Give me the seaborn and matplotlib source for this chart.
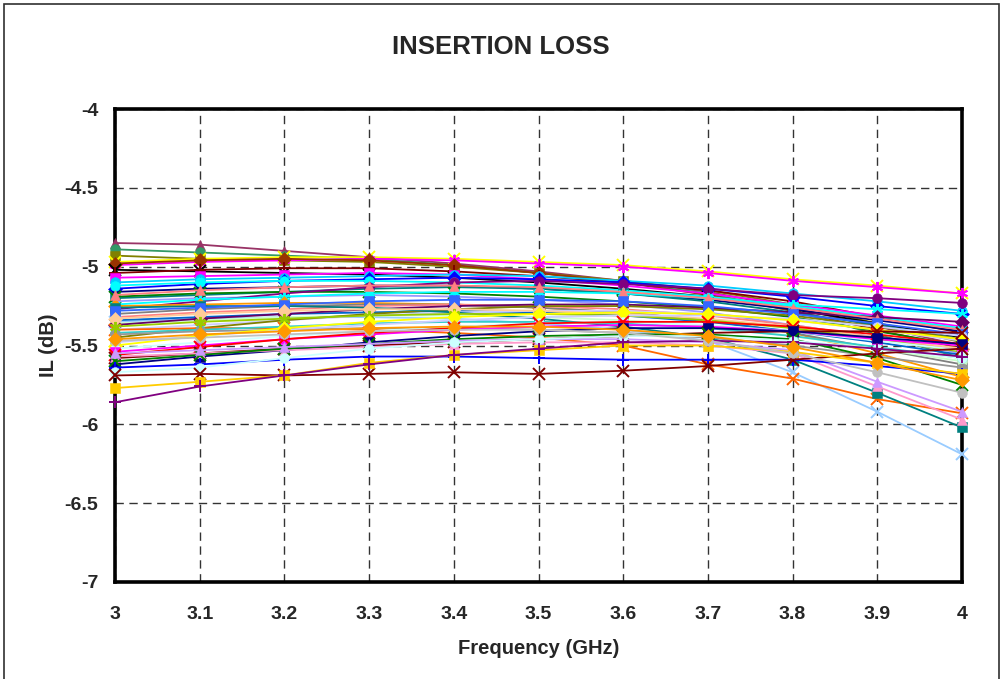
import matplotlib

matplotlib.use("Agg")

import matplotlib.pyplot as plt
import pandas as pd
import seaborn as sns
from matplotlib.patches import Rectangle
from matplotlib.ticker import FormatStrFormatter, MultipleLocator

sns.set_theme(style="white")
plt.rcParams["font.family"] = ["Liberation Sans", "DejaVu Sans"]
plt.rcParams["font.weight"] = "bold"

freq_ghz = [3.0, 3.1, 3.2, 3.3, 3.4, 3.5, 3.6, 3.7, 3.8, 3.9, 4.0]

# insertion loss per device (dB)
upper_group = [
    [-4.85, -4.86, -4.90, -4.94, -4.98, -5.03, -5.09, -5.16, -5.26, -5.38, -5.50],
    [-4.89, -4.91, -4.93, -4.95, -4.99, -5.04, -5.10, -5.17, -5.28, -5.43, -5.58],
    [-4.93, -4.95, -4.96, -4.97, -5.00, -5.04, -5.09, -5.15, -5.24, -5.36, -5.48],
    [-4.97, -4.95, -4.94, -4.94, -4.95, -4.97, -4.99, -5.03, -5.08, -5.12, -5.17],
    [-4.99, -4.97, -4.96, -4.95, -4.96, -4.98, -5.00, -5.04, -5.09, -5.13, -5.17],
    [-4.98, -4.96, -4.95, -4.96, -4.99, -5.04, -5.10, -5.18, -5.28, -5.40, -5.52],
    [-5.02, -5.03, -5.04, -5.05, -5.07, -5.10, -5.14, -5.19, -5.27, -5.36, -5.45],
    [-5.04, -5.02, -5.01, -5.01, -5.03, -5.06, -5.10, -5.15, -5.22, -5.32, -5.42],
    [-5.07, -5.06, -5.05, -5.04, -5.05, -5.08, -5.12, -5.17, -5.24, -5.31, -5.38],
    [-5.10, -5.08, -5.07, -5.06, -5.05, -5.06, -5.09, -5.12, -5.17, -5.22, -5.28],
    [-5.14, -5.11, -5.09, -5.08, -5.07, -5.08, -5.10, -5.14, -5.19, -5.25, -5.30],
    [-5.16, -5.14, -5.13, -5.12, -5.12, -5.14, -5.17, -5.21, -5.27, -5.34, -5.41],
    [-5.12, -5.10, -5.09, -5.09, -5.10, -5.12, -5.15, -5.19, -5.25, -5.32, -5.39],
]
middle_group = [
    [-5.20, -5.18, -5.16, -5.14, -5.13, -5.14, -5.17, -5.22, -5.29, -5.37, -5.46],
    [-5.19, -5.17, -5.16, -5.16, -5.17, -5.19, -5.22, -5.26, -5.32, -5.41, -5.50],
    [-5.22, -5.20, -5.19, -5.18, -5.19, -5.21, -5.24, -5.29, -5.37, -5.45, -5.55],
    [-5.27, -5.22, -5.17, -5.13, -5.10, -5.09, -5.11, -5.14, -5.18, -5.20, -5.23],
    [-5.24, -5.21, -5.19, -5.17, -5.16, -5.16, -5.17, -5.20, -5.24, -5.27, -5.30],
    [-5.25, -5.24, -5.23, -5.23, -5.24, -5.26, -5.29, -5.34, -5.42, -5.55, -5.70],
    [-5.30, -5.27, -5.25, -5.24, -5.24, -5.26, -5.29, -5.34, -5.42, -5.52, -5.62],
    [-5.32, -5.29, -5.27, -5.25, -5.24, -5.25, -5.27, -5.31, -5.37, -5.45, -5.53],
    [-5.35, -5.33, -5.32, -5.32, -5.33, -5.36, -5.40, -5.47, -5.67, -5.92, -6.19],
    [-5.34, -5.32, -5.30, -5.29, -5.28, -5.29, -5.31, -5.35, -5.41, -5.48, -5.56],
    [-5.36, -5.34, -5.32, -5.31, -5.31, -5.32, -5.34, -5.38, -5.44, -5.52, -5.60],
    [-5.37, -5.33, -5.30, -5.27, -5.25, -5.24, -5.24, -5.26, -5.29, -5.32, -5.35],
    [-5.40, -5.37, -5.34, -5.31, -5.29, -5.28, -5.28, -5.30, -5.34, -5.40, -5.47],
    [-5.45, -5.39, -5.34, -5.30, -5.27, -5.25, -5.25, -5.27, -5.31, -5.38, -5.46],
    [-5.40, -5.39, -5.39, -5.40, -5.42, -5.45, -5.50, -5.62, -5.71, -5.84, -5.93],
    [-5.26, -5.25, -5.25, -5.26, -5.29, -5.33, -5.38, -5.45, -5.59, -5.80, -6.02],
    [-5.42, -5.40, -5.38, -5.36, -5.35, -5.35, -5.36, -5.39, -5.44, -5.51, -5.58],
    [-5.18, -5.15, -5.13, -5.12, -5.12, -5.13, -5.16, -5.20, -5.26, -5.33, -5.40],
    [-5.28, -5.26, -5.24, -5.22, -5.21, -5.21, -5.22, -5.25, -5.30, -5.36, -5.43],
    [-5.33, -5.30, -5.28, -5.27, -5.27, -5.28, -5.30, -5.33, -5.38, -5.45, -5.52],
    [-5.43, -5.41, -5.40, -5.39, -5.39, -5.40, -5.42, -5.45, -5.50, -5.57, -5.64],
    [-5.38, -5.35, -5.33, -5.31, -5.30, -5.30, -5.31, -5.34, -5.39, -5.46, -5.54],
]
lower_group = [
    [-5.48, -5.44, -5.40, -5.37, -5.34, -5.32, -5.31, -5.31, -5.33, -5.38, -5.44],
    [-5.50, -5.44, -5.39, -5.35, -5.32, -5.30, -5.29, -5.30, -5.34, -5.40, -5.46],
    [-5.52, -5.48, -5.44, -5.41, -5.38, -5.36, -5.35, -5.37, -5.41, -5.47, -5.53],
    [-5.54, -5.50, -5.46, -5.43, -5.40, -5.38, -5.37, -5.38, -5.41, -5.46, -5.50],
    [-5.56, -5.51, -5.46, -5.42, -5.39, -5.36, -5.35, -5.35, -5.38, -5.43, -5.49],
    [-5.58, -5.55, -5.52, -5.50, -5.48, -5.46, -5.44, -5.42, -5.41, -5.41, -5.42],
    [-5.62, -5.57, -5.53, -5.48, -5.44, -5.41, -5.39, -5.39, -5.41, -5.45, -5.49],
    [-5.57, -5.55, -5.53, -5.51, -5.49, -5.48, -5.48, -5.50, -5.55, -5.76, -5.97],
    [-5.60, -5.56, -5.52, -5.49, -5.46, -5.44, -5.43, -5.43, -5.46, -5.58, -5.75],
    [-5.55, -5.53, -5.51, -5.49, -5.47, -5.46, -5.46, -5.48, -5.53, -5.73, -5.92],
    [-5.64, -5.62, -5.59, -5.57, -5.57, -5.58, -5.59, -5.59, -5.59, -5.63, -5.68],
    [-5.67, -5.64, -5.58, -5.52, -5.48, -5.46, -5.44, -5.44, -5.47, -5.52, -5.58],
    [-5.69, -5.68, -5.69, -5.68, -5.67, -5.68, -5.66, -5.63, -5.59, -5.55, -5.52],
    [-5.77, -5.73, -5.69, -5.61, -5.56, -5.53, -5.50, -5.50, -5.54, -5.61, -5.68],
    [-5.86, -5.76, -5.69, -5.62, -5.56, -5.52, -5.48, -5.47, -5.48, -5.52, -5.57],
    [-5.47, -5.45, -5.43, -5.41, -5.40, -5.40, -5.42, -5.47, -5.55, -5.67, -5.80],
    [-5.46, -5.43, -5.41, -5.39, -5.38, -5.38, -5.40, -5.44, -5.51, -5.61, -5.72],
]

AST = (6, 2, 0)  # excel-style asterisk marker

# excel-ish colour / marker per series, same order as the rows above
colors = [
    "#993366", "#339966", "#808000", "#FFFF00", "#FF00FF", "#993300", "#000000",
    "#800000", "#FF00FF", "#00CCFF", "#0000FF", "#000080", "#00FFFF",
    "#008080", "#008000", "#9999FF", "#800080", "#00FFFF", "#FF9900", "#808080",
    "#FF8080", "#99CCFF", "#0066CC", "#CCFFCC", "#660066", "#CCCCFF", "#808000",
    "#FF6600", "#008080", "#33CCCC", "#FF8080", "#3366FF", "#FFCC99", "#969696",
    "#99CC00",
    "#CCCCFF", "#FFFF00", "#CCFFFF", "#FF00FF", "#FF0000", "#800000", "#000080",
    "#FF99CC", "#008000", "#CC99FF", "#0000FF", "#CCFFFF", "#800000", "#FFCC00",
    "#800080", "#C0C0C0", "#FF9900",
]
markers = [
    "^", "o", "s", "x", AST, "D", "x", "+", "s", "o", "D", "v", "o",
    "s", "x", "^", "o", AST, "D", "s", "s", "x", "+", "o", "D", AST, "^",
    "x", "s", "o", "^", "s", "D", "o", AST,
    "o", "D", "o", "s", "x", "x", "s", "^", "x", "^", "+", "o", "x", "s",
    "+", "o", "D",
]
line_markers = ("x", "+", AST)

rows = upper_group + middle_group + lower_group
records = []
for i, vals in enumerate(rows):
    for f, v in zip(freq_ghz, vals):
        records.append({"device": i, "freq": f, "il": v})
df = pd.DataFrame(records)

fig = plt.figure(figsize=(10.04, 6.79), dpi=100)
ax = fig.add_axes([115 / 1004, 1 - 582 / 679, 847 / 1004, 473 / 679])

for i in range(len(rows)):
    sub = df[df["device"] == i]
    m = markers[i]
    is_line = m in line_markers
    sns.lineplot(
        data=sub, x="freq", y="il", ax=ax, color=colors[i], linewidth=1.3,
        marker=m, markersize=8 if is_line else 7,
        markeredgewidth=1.4 if is_line else 0.4,
        markeredgecolor=colors[i], clip_on=False, legend=False, zorder=3,
    )

ax.set_xlim(3, 4)
ax.set_ylim(-7, -4)
ax.xaxis.set_major_locator(MultipleLocator(0.1))
ax.yaxis.set_major_locator(MultipleLocator(0.5))
ax.xaxis.set_major_formatter(FormatStrFormatter("%g"))
ax.yaxis.set_major_formatter(FormatStrFormatter("%g"))
ax.grid(True, color="#333333", linestyle=(0, (6, 4)), linewidth=1.0)
ax.set_axisbelow(True)
for s in ax.spines.values():
    s.set_color("black")
    s.set_linewidth(2.6)
ax.tick_params(axis="both", direction="out", length=5, width=1, color="black",
               labelsize=14, pad=7)
ax.tick_params(axis="x", pad=12)
for lab in ax.get_xticklabels() + ax.get_yticklabels():
    lab.set_fontweight("bold")

ax.set_xlabel("Frequency (GHz)", fontsize=14.5, fontweight="bold", labelpad=12)
ax.set_ylabel("IL (dB)", fontsize=14.5, fontweight="bold", labelpad=5)
fig.text(501 / 1004, 1 - 47 / 679, "INSERTION LOSS", ha="center", va="center",
         fontsize=18.5, fontweight="bold")

# outer chart-area border
fig.patches.append(Rectangle((4 / 1004, -0.01), 995 / 1004, 1 - 4 / 679 + 0.01,
                             transform=fig.transFigure, fill=False,
                             edgecolor="#303030", linewidth=1.2))

fig.savefig("out.png", dpi=100)
